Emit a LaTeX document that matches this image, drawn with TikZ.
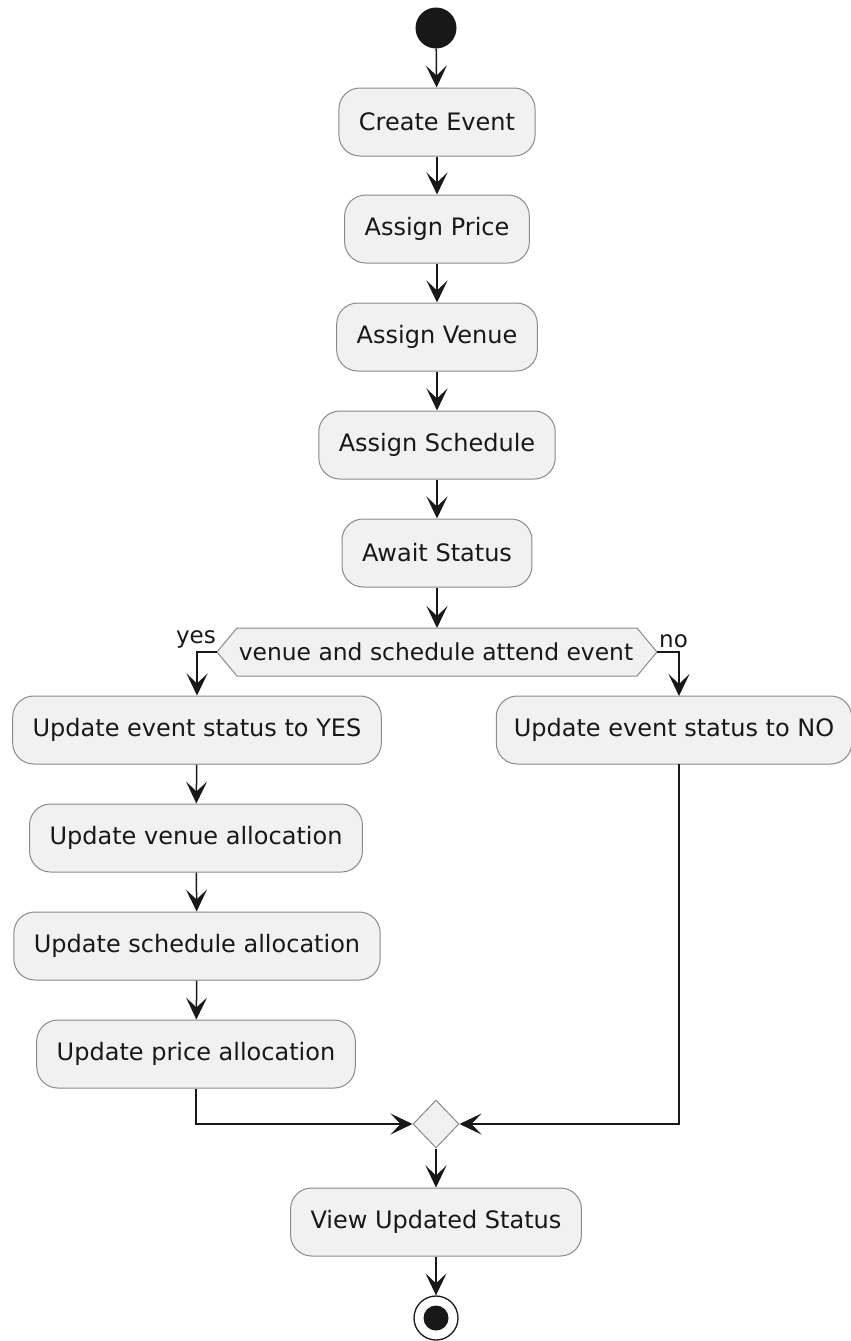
\documentclass[tikz,border=0pt]{standalone}
\usepackage{fontspec}
\setmainfont{DejaVu Sans}
\usetikzlibrary{arrows.meta,shapes.geometric,calc}

\definecolor{boxfill}{HTML}{F1F1F1}
\definecolor{boxline}{HTML}{8A8A8A}
\definecolor{ink}{HTML}{181818}

\tikzset{
  action/.style={draw=boxline, fill=boxfill, line width=1pt, rounded corners=21pt,
    minimum height=68pt, inner xsep=20pt, text=ink,
    font=\fontsize{24}{29}\selectfont},
  flow/.style={draw=ink, line width=1.5pt,
    -{Stealth[length=22pt,width=21pt,inset=10pt]}},
  guard/.style={text=ink, inner sep=0pt, font=\fontsize{23}{26}\selectfont},
  mergebox/.style={diamond, draw=boxline, fill=boxfill, line width=1pt,
    minimum width=46pt, minimum height=48pt, inner sep=0pt},
}

\begin{document}
\begin{tikzpicture}[x=1pt,y=-1pt]
  \useasboundingbox (0,0) rectangle (851,1341);

  % start
  \node[circle, fill=ink, minimum size=41pt, inner sep=0pt] (start) at (436,28) {};

  % main column
  \node[action] (create)   at (437,122) {Create Event};
  \node[action] (price)    at (437,229) {Assign Price};
  \node[action] (venue)    at (437,337) {Assign Venue};
  \node[action] (schedule) at (437,445) {Assign Schedule};
  \node[action] (await)    at (437,553) {Await Status};

  % decision: hexagon outline, then its text
  \path[draw=boxline, fill=boxfill, line width=1pt]
    (217,652) -- (237,628) -- (637,628) -- (657,652) -- (637,676) -- (237,676) -- cycle;
  \node[text=ink, inner sep=0pt, font=\fontsize{23.4}{27}\selectfont] (dec) at (436,652)
    {venue and schedule attend event};
  \coordinate (decW) at (217,652);
  \coordinate (decE) at (657,652);
  \coordinate (decN) at (437,628);

  % yes branch
  \node[action] (upyes)   at (197,730)  {Update event status to YES};
  \node[action] (upvenue) at (196,838)  {Update venue allocation};
  \node[action] (upsched) at (197,946)  {Update schedule allocation};
  \node[action] (upprice) at (196,1054) {Update price allocation};

  % no branch
  \node[action, inner xsep=17.5pt] (upno) at (674,730) {Update event status to NO};
  \coordinate (noIn)  at (679,696);
  \coordinate (noOut) at (679,764);

  % merge and end
  \node[mergebox] (merge) at (436,1124) {};
  \node[action] (view) at (436,1222) {View Updated Status};
  \node[circle, draw=ink, line width=1.3pt, fill=white, minimum size=44pt, inner sep=0pt] (stop) at (436,1318) {};
  \node[circle, fill=ink, minimum size=25pt, inner sep=0pt] (stopdot) at (436,1318) {};

  % connectors
  \draw[flow] (start) -- (create);
  \draw[flow] (create) -- (price);
  \draw[flow] (price) -- (venue);
  \draw[flow] (venue) -- (schedule);
  \draw[flow] (schedule) -- (await);
  \draw[flow] (await) -- (decN);

  \draw[flow] (decW) -| (upyes.north);
  \draw[flow] (decE) -| (noIn);
  \node[guard, anchor=south east] (yeslbl) at (216,648) {yes};
  \node[guard, anchor=south west] (nolbl) at (659,648) {no};

  \draw[flow] (upyes) -- (upvenue);
  \draw[flow] (upvenue) -- (upsched);
  \draw[flow] (upsched) -- (upprice);

  \draw[flow] (upprice.south) |- (merge.west);
  \draw[flow] (noOut) |- (merge.east);
  \draw[flow] (merge) -- (view);
  \draw[flow] (view) -- (stop);
\end{tikzpicture}
\end{document}
